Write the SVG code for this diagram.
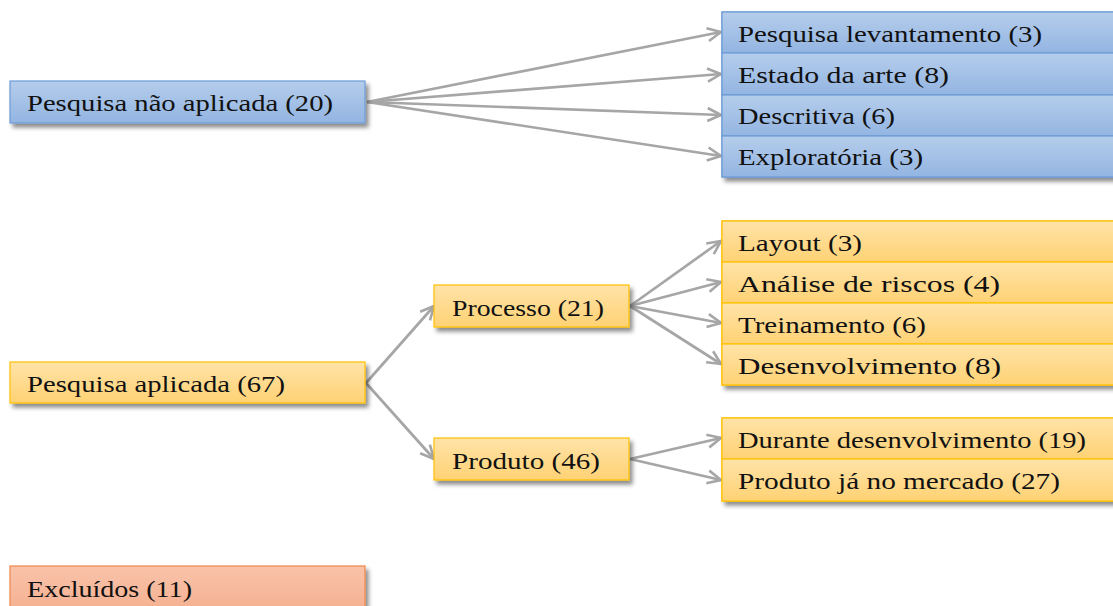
<svg xmlns="http://www.w3.org/2000/svg" width="1113" height="606" viewBox="0 0 1113 606">
  <defs>
    <linearGradient id="gBlue" x1="0" y1="0" x2="0" y2="1">
      <stop offset="0" stop-color="#B5CDEB"/>
      <stop offset="1" stop-color="#93B5E2"/>
    </linearGradient>
    <linearGradient id="gOrange" x1="0" y1="0" x2="0" y2="1">
      <stop offset="0" stop-color="#FFE3A8"/>
      <stop offset="1" stop-color="#FFD274"/>
    </linearGradient>
    <linearGradient id="gSalmon" x1="0" y1="0" x2="0" y2="1">
      <stop offset="0" stop-color="#F9C3AA"/>
      <stop offset="1" stop-color="#F4AA88"/>
    </linearGradient>
    <filter id="shadow" x="-10%" y="-30%" width="120%" height="170%">
      <feDropShadow dx="3" dy="4" stdDeviation="2.2" flood-color="#000" flood-opacity="0.45"/>
    </filter>
    <marker id="arrow" viewBox="0 0 16 16" refX="15" refY="8" markerWidth="16" markerHeight="16" markerUnits="userSpaceOnUse" orient="auto">
      <path d="M1.5,1.5 L15,8 L1.5,14.5" fill="none" stroke="#A6A6A6" stroke-width="2.6" stroke-linejoin="miter"/>
    </marker>
  </defs>
  <style>
    .blue { fill: url(#gBlue); stroke: #6C9BD5; stroke-width: 1.2; }
    .orange { fill: url(#gOrange); stroke: #FFC000; stroke-width: 1.2; }
    .salmon { fill: url(#gSalmon); stroke: #F0884A; stroke-width: 1.2; }
    .shad { filter: url(#shadow); }
    text { font-family: "Liberation Serif", "Times New Roman", serif; font-size: 24px; fill: #111; }
    .conn line { stroke: #A6A6A6; stroke-width: 2.7; fill: none; marker-end: url(#arrow); }
  </style>

  <rect width="1113" height="606" fill="#FFFFFF"/>

  <!-- connectors -->
  <g id="connectors" class="conn">
    <line x1="367" y1="102" x2="721" y2="32"/>
    <line x1="367" y1="102" x2="721" y2="74"/>
    <line x1="367" y1="102" x2="721" y2="115"/>
    <line x1="367" y1="102" x2="721" y2="156"/>

    <line x1="366" y1="383" x2="434" y2="306"/>
    <line x1="366" y1="383" x2="434" y2="459"/>

    <line x1="630" y1="306" x2="721" y2="241"/>
    <line x1="630" y1="306" x2="721" y2="282"/>
    <line x1="630" y1="306" x2="721" y2="323"/>
    <line x1="630" y1="306" x2="721" y2="364"/>

    <line x1="630" y1="459" x2="721" y2="438"/>
    <line x1="630" y1="459" x2="721" y2="480"/>
  </g>

  <!-- non-applied research branch -->
  <g id="nao-aplicada">
    <rect class="blue shad" x="10" y="81" width="355" height="42"/>
    <text x="27" y="111" textLength="306" lengthAdjust="spacingAndGlyphs">Pesquisa não aplicada (20)</text>
  </g>

  <g id="blue-stack" class="shad">
    <rect class="blue" x="722" y="12" width="400" height="165"/>
  </g>
  <g id="levantamento">
    <rect class="blue" x="722" y="12" width="400" height="41"/>
    <text x="738" y="42" textLength="304" lengthAdjust="spacingAndGlyphs">Pesquisa levantamento (3)</text>
  </g>
  <g id="estado-arte">
    <rect class="blue" x="722" y="53" width="400" height="42"/>
    <text x="738" y="83" textLength="211" lengthAdjust="spacingAndGlyphs">Estado da arte (8)</text>
  </g>
  <g id="descritiva">
    <rect class="blue" x="722" y="95" width="400" height="41"/>
    <text x="738" y="124" textLength="157" lengthAdjust="spacingAndGlyphs">Descritiva (6)</text>
  </g>
  <g id="exploratoria">
    <rect class="blue" x="722" y="136" width="400" height="41"/>
    <text x="738" y="165" textLength="185" lengthAdjust="spacingAndGlyphs">Exploratória (3)</text>
  </g>

  <!-- applied research branch -->
  <g id="aplicada">
    <rect class="orange shad" x="10" y="362" width="355" height="41"/>
    <text x="27" y="392" textLength="258" lengthAdjust="spacingAndGlyphs">Pesquisa aplicada (67)</text>
  </g>

  <g id="processo">
    <rect class="orange shad" x="434" y="285" width="195" height="42"/>
    <text x="452" y="316" textLength="152" lengthAdjust="spacingAndGlyphs">Processo (21)</text>
  </g>

  <g id="produto">
    <rect class="orange shad" x="434" y="438" width="195" height="42"/>
    <text x="452" y="469" textLength="148" lengthAdjust="spacingAndGlyphs">Produto (46)</text>
  </g>

  <g id="processo-stack" class="shad">
    <rect class="orange" x="722" y="221" width="400" height="164"/>
  </g>
  <g id="layout">
    <rect class="orange" x="722" y="221" width="400" height="41"/>
    <text x="738" y="251" textLength="124" lengthAdjust="spacingAndGlyphs">Layout (3)</text>
  </g>
  <g id="riscos">
    <rect class="orange" x="722" y="262" width="400" height="41"/>
    <text x="738" y="292" textLength="262" lengthAdjust="spacingAndGlyphs">Análise de riscos (4)</text>
  </g>
  <g id="treinamento">
    <rect class="orange" x="722" y="303" width="400" height="41"/>
    <text x="738" y="333" textLength="188" lengthAdjust="spacingAndGlyphs">Treinamento (6)</text>
  </g>
  <g id="desenvolvimento">
    <rect class="orange" x="722" y="344" width="400" height="41"/>
    <text x="738" y="374" textLength="263" lengthAdjust="spacingAndGlyphs">Desenvolvimento (8)</text>
  </g>

  <g id="produto-stack" class="shad">
    <rect class="orange" x="722" y="418" width="400" height="83"/>
  </g>
  <g id="durante">
    <rect class="orange" x="722" y="418" width="400" height="41"/>
    <text x="738" y="448" textLength="348" lengthAdjust="spacingAndGlyphs">Durante desenvolvimento (19)</text>
  </g>
  <g id="mercado">
    <rect class="orange" x="722" y="459" width="400" height="42"/>
    <text x="738" y="489" textLength="322" lengthAdjust="spacingAndGlyphs">Produto já no mercado (27)</text>
  </g>

  <!-- excluded -->
  <g id="excluidos">
    <rect class="salmon shad" x="10" y="566" width="355" height="60"/>
    <text x="27" y="597" textLength="165" lengthAdjust="spacingAndGlyphs">Excluídos (11)</text>
  </g>
</svg>
